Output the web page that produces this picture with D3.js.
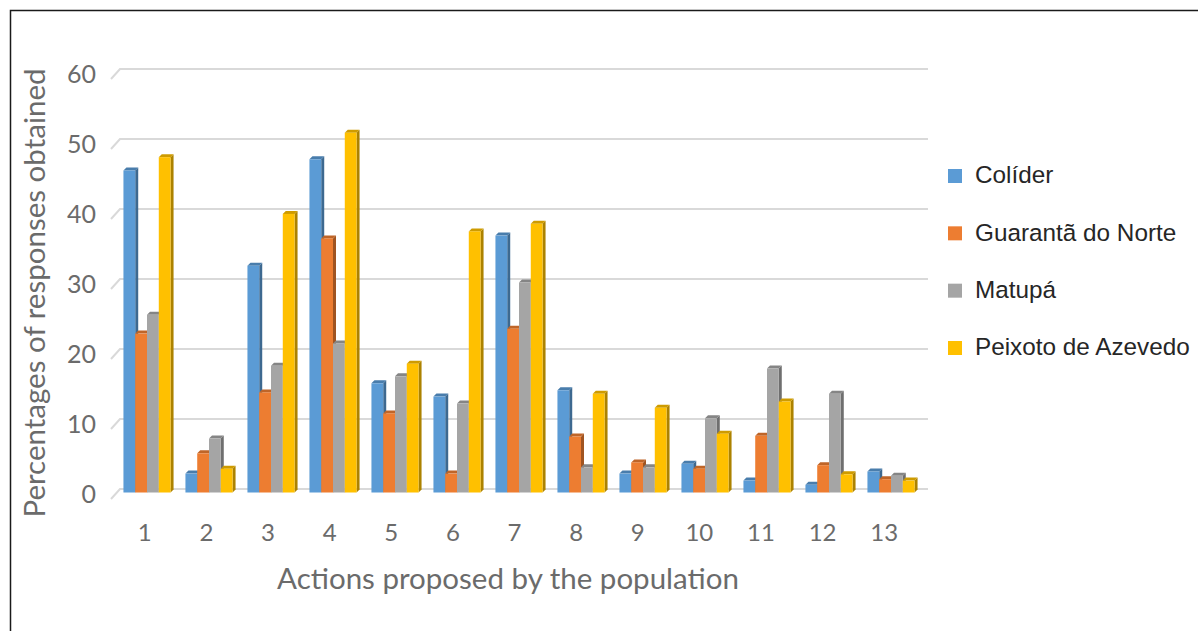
<!DOCTYPE html>
<html>
<head>
<meta charset="utf-8">
<script src="https://cdn.jsdelivr.net/npm/d3@7"></script>
<style>
  html, body { margin: 0; padding: 0; background: #fff; }
  svg { display: block; }
</style>
</head>
<body>
<svg id="chart" width="1198" height="631"></svg>
<script>
// Actions proposed by the population, 1..13
const categories = ["1","2","3","4","5","6","7","8","9","10","11","12","13"];
const seriesNames = ["Colíder", "Guarantã do Norte", "Matupá", "Peixoto de Azevedo"];
const colider   = [46, 2.7, 32.4, 47.6, 15.6, 13.7, 36.7, 14.6, 2.7, 4.1, 1.7, 1.1, 3.0];
const guaranta  = [22.7, 5.6, 14.3, 36.3, 11.3, 2.7, 23.4, 8.0, 4.3, 3.4, 8.1, 3.9, 1.9];
const matupa    = [25.4, 7.7, 18.1, 21.3, 16.6, 12.7, 30.0, 3.6, 3.6, 10.6, 17.7, 14.1, 2.4];
const peixoto   = [47.9, 3.4, 39.8, 51.4, 18.4, 37.3, 38.4, 14.1, 12.1, 8.4, 13.0, 2.6, 1.7];
const yTicks = [0, 10, 20, 30, 40, 50, 60];
const colors = ["#5B9BD5", "#ED7D31", "#A5A5A5", "#FFC000"];

const series = [colider, guaranta, matupa, peixoto];
const svg = d3.select("#chart");

// outer frame (left and top edges visible)
svg.append("rect").attr("x", 10.5).attr("y", 10.5)
  .attr("width", 1300).attr("height", 700)
  .attr("fill", "none").attr("stroke", "#1a1a1a").attr("stroke-width", 1.5);

// 3D depth offsets
const depth = { dx: 9, dy: 7 };     // floor / wall depth
const bar3d = { dx: 3, dy: 3 };     // bar thickness

// vertical scale for bar mid-depth plane
const y = d3.scaleLinear().domain([0, 60]).range([492.5, 72.5]);
// back wall (gridlines) and front edge
const yBack = v => y(v) - 3.5;
const yFront = v => y(v) + 3.5;

const x0 = d3.scaleBand().domain(categories).range([116, 922]).paddingInner(0.24).paddingOuter(0.12);
const x1 = d3.scaleBand().domain(d3.range(4)).range([0, x0.bandwidth()]).padding(0);
const xLabel = d3.scaleBand().domain(categories).range([114, 915]);

const wallLeft = 120, wallRight = 928;

// gridlines with the slanted side-wall stub
const grid = svg.append("g");
yTicks.forEach(t => {
  grid.append("path")
    .attr("d", `M${wallLeft - depth.dx},${yFront(t) + 3} L${wallLeft},${yBack(t)} L${wallRight},${yBack(t)}`)
    .attr("fill", "none").attr("stroke", "#d9d9d9").attr("stroke-width", 2);
});

const labelFont = "Lato, 'Open Sans', sans-serif";

// y tick labels
svg.append("g").selectAll("text").data(yTicks).join("text")
  .attr("x", 96).attr("y", d => yFront(d) + 1)
  .attr("text-anchor", "end").attr("dominant-baseline", "middle")
  .attr("font-family", labelFont).attr("font-size", 25)
  .attr("fill", "#6b6b6b").text(d => d);

// x tick labels
svg.append("g").selectAll("text").data(categories).join("text")
  .attr("x", d => xLabel(d) + xLabel.bandwidth() / 2).attr("y", 535)
  .attr("text-anchor", "middle").attr("dominant-baseline", "middle")
  .attr("font-family", labelFont).attr("font-size", 24)
  .attr("fill", "#6b6b6b").text(d => d);

// bars
function shade(c, k) { return d3.color(c).darker(k).formatHex(); }
const bars = svg.append("g");
categories.forEach((cat, i) => {
  series.forEach((vals, s) => {
    const v = vals[i];
    const bx = x0(cat) + x1(s);
    const w = x1.bandwidth();
    const yt = y(v), yb = y(0);
    const g = bars.append("g");
    // side face
    g.append("path")
      .attr("d", `M${bx + w},${yt} L${bx + w + bar3d.dx},${yt - bar3d.dy} L${bx + w + bar3d.dx},${yb - bar3d.dy} L${bx + w},${yb} Z`)
      .attr("fill", shade(colors[s], 1.1));
    // top face
    g.append("path")
      .attr("d", `M${bx},${yt} L${bx + bar3d.dx},${yt - bar3d.dy} L${bx + w + bar3d.dx},${yt - bar3d.dy} L${bx + w},${yt} Z`)
      .attr("fill", shade(colors[s], 0.6));
    // front face
    g.append("rect")
      .attr("x", bx).attr("y", yt).attr("width", w).attr("height", yb - yt)
      .attr("fill", colors[s]);
  });
});

// axis titles
svg.append("text")
  .attr("x", 508).attr("y", 582)
  .attr("text-anchor", "middle").attr("dominant-baseline", "middle")
  .attr("font-family", labelFont).attr("font-size", 29.5)
  .attr("fill", "#6b6b6b").text("Actions proposed by the population");

svg.append("text")
  .attr("transform", "translate(38,293) rotate(-90)")
  .attr("text-anchor", "middle").attr("dominant-baseline", "middle")
  .attr("font-family", labelFont).attr("font-size", 29.5)
  .attr("fill", "#6b6b6b").text("Percentages of responses obtained");

// legend
const legend = svg.append("g");
const legendY = d3.scalePoint().domain(seriesNames).range([176, 348]);
seriesNames.forEach((name, s) => {
  legend.append("rect")
    .attr("x", 948).attr("y", legendY(name) - 7).attr("width", 14).attr("height", 14)
    .attr("fill", colors[s]);
  legend.append("text")
    .attr("x", 975).attr("y", legendY(name) + 1)
    .attr("dominant-baseline", "middle")
    .attr("font-family", "'Liberation Sans', Arial, sans-serif").attr("font-size", 24.3)
    .attr("fill", "#262626").text(name);
});
</script>
</body>
</html>
